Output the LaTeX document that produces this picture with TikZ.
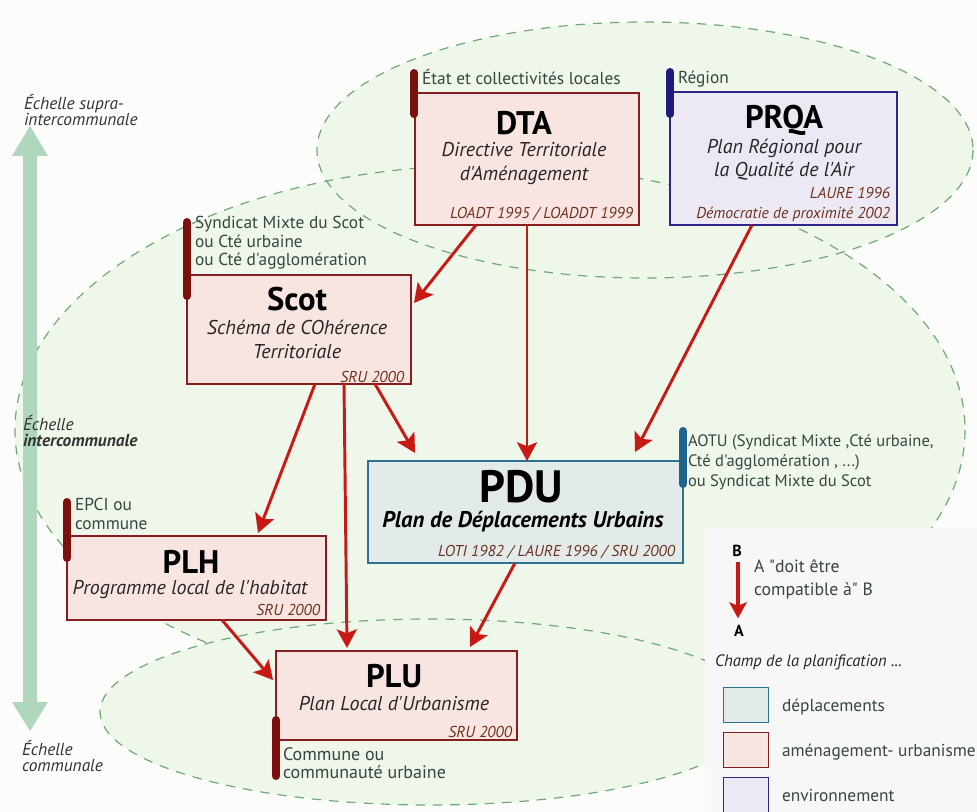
\documentclass[tikz,border=0pt]{standalone}
\usepackage{fontspec}
\setmainfont{PT Sans}[Ligatures=TeXOff]
\usetikzlibrary{arrows.meta,calc}
\definecolor{bgc}{RGB}{252,253,251}
\definecolor{ell}{RGB}{239,246,234}
\definecolor{elldash}{RGB}{110,170,120}
\definecolor{scalearrow}{RGB}{175,215,190}
\definecolor{amenF}{RGB}{248,228,225}
\definecolor{amenD}{RGB}{135,30,30}
\definecolor{envF}{RGB}{236,233,244}
\definecolor{envD}{RGB}{45,40,135}
\definecolor{depF}{RGB}{226,235,234}
\definecolor{depD}{RGB}{45,115,145}
\definecolor{tabR}{RGB}{125,15,15}
\definecolor{tabB}{RGB}{30,25,125}
\definecolor{tabT}{RGB}{30,100,140}
\definecolor{lbl}{RGB}{55,70,65}
\definecolor{legal}{RGB}{110,50,30}
\definecolor{arrred}{RGB}{200,25,20}
\definecolor{legbg}{RGB}{247,247,247}
\begin{document}
\begin{tikzpicture}[x=0.75pt,y=-0.75pt,
  every node/.style={inner sep=0pt, outer sep=0pt},
  ellfill/.style={fill=ell},
  elldraw/.style={draw=elldash, line width=0.9pt, dash pattern=on 7pt off 6pt},
  boxbase/.style={rectangle, line width=1.4pt},
  amen/.style={boxbase, draw=amenD, fill=amenF},
  envi/.style={boxbase, draw=envD, fill=envF},
  depl/.style={boxbase, draw=depD, fill=depF},
  tabbar/.style={line width=6pt, line cap=round},
  lab/.style={text=lbl, align=left, font=\fontsize{13}{14}\selectfont},
  ttl/.style={font=\fontsize{24.5}{28}\selectfont\bfseries},
  sub/.style={align=center, text=black!85, font=\fontsize{15}{17.5}\selectfont\itshape},
  law/.style={align=right, text=legal, font=\fontsize{11.8}{14.3}\selectfont\itshape},
  scl/.style={align=left, text=black!80, font=\fontsize{13}{12.6}\selectfont\itshape},
  arr/.style={draw=arrred, line width=2.2pt, -{Stealth[length=14pt,width=15pt,inset=3pt]}},
  leg/.style={text=lbl, align=left, font=\fontsize{13}{17}\selectfont}
]
\useasboundingbox (0,0) rectangle (977,812);
\fill[bgc] (0,0) rectangle (977,812);

% ellipses
\fill[ellfill] (645,150) ellipse [x radius=328, y radius=128];
\fill[ellfill] (490,430) ellipse [x radius=475, y radius=265];
\draw[elldraw] (645,150) ellipse [x radius=328, y radius=128];
\draw[elldraw] (490,430) ellipse [x radius=475, y radius=265];
\fill[ellfill] (430,712) ellipse [x radius=330, y radius=93];
\draw[elldraw] (430,712) ellipse [x radius=330, y radius=93];

% scale double arrow
\fill[scalearrow] (30,126) -- (48,156) -- (37,156) -- (37,702) -- (48,702) -- (30,731)
  -- (12,702) -- (23,702) -- (23,156) -- (12,156) -- cycle;
\node[scl, anchor=west] (s1) at (24,110) {Échelle supra-\\intercommunale};
\node[scl, anchor=west] (s2) at (23,431) {Échelle\\\textbf{intercommunale}};
\node[scl, anchor=west] (s3) at (22,756) {Échelle\\communale};

% boxes
\node[amen, minimum width=224*0.75pt, minimum height=132*0.75pt] (dta) at (527,159) {};
\node[envi, minimum width=227*0.75pt, minimum height=133*0.75pt] (prqa) at (783.5,158.5) {};
\node[amen, minimum width=224*0.75pt, minimum height=109*0.75pt] (scot) at (299,329.5) {};
\node[depl, minimum width=315*0.75pt, minimum height=102*0.75pt] (pdu) at (525.5,512) {};
\node[amen, minimum width=259*0.75pt, minimum height=84*0.75pt] (plh) at (196.5,578) {};
\node[amen, minimum width=241*0.75pt, minimum height=89*0.75pt] (plu) at (396.5,695.5) {};

% tabs
\draw[tabbar, tabR] ($(dta.north west)+(-1,-20)$) -- ($(dta.north west)+(-1,21)$);
\draw[tabbar, tabB] ($(prqa.north west)+(0,-20)$) -- ($(prqa.north west)+(0,22)$);
\draw[tabbar, tabR] ($(scot.north west)+(0,-53)$) -- ($(scot.north west)+(0,21)$);
\draw[tabbar, tabT] ($(pdu.north east)+(0,-30)$) -- ($(pdu.north east)+(0,23)$);
\draw[tabbar, tabR] ($(plh.north west)+(0,-34)$) -- ($(plh.north west)+(0,22)$);
\draw[tabbar, tabR] ($(plu.south west)+(0,-20)$) -- ($(plu.south west)+(0,36)$);

% tab labels
\node[lab, anchor=west] (dtaL) at (422,77) {État et collectivités locales};
\node[lab, anchor=west] (prqaL) at (678,79) {Région};
\node[lab, anchor=west, font=\fontsize{13}{13.8}\selectfont] (scotL) at (195,243) {Syndicat Mixte du Scot\\ou Cté urbaine\\ou Cté d'agglomération};
\node[lab, anchor=west, font=\fontsize{12.4}{15}\selectfont] (pduL) at (688,462) {AOTU (Syndicat Mixte ,Cté urbaine,\\Cté d'agglomération , ...)\\ou Syndicat Mixte du Scot};
\node[lab, anchor=west] (plhL) at (75,514) {EPCI ou\\commune};
\node[lab, anchor=west, font=\fontsize{13.5}{13.8}\selectfont] (pluL) at (283,763) {Commune ou\\communauté urbaine};

% DTA
\node[ttl] (dtaT) at (524,123.5) {DTA};
\node[sub] (dtaS) at (524,163.5) {Directive Territoriale\\d'Aménagement};
\node[law, anchor=east] (dtaW) at (633,214) {LOADT 1995 / LOADDT 1999};
% PRQA
\node[ttl] (prqaT) at (784,120) {PRQA};
\node[sub] (prqaS) at (784,159.5) {Plan Régional pour\\la Qualité de l'Air};
\node[law, anchor=east] (prqaW) at (890,204.5) {LAURE 1996\\Démocratie de proximité 2002};
% Scot
\node[ttl] (scotT) at (297,299) {Scot};
\node[sub, font=\fontsize{15}{18}\selectfont\itshape] (scotS) at (297,339) {Schéma de COhérence\\Territoriale};
\node[law, anchor=east] (scotW) at (404,377) {SRU 2000};
% PDU
\node[font=\fontsize{34}{36}\selectfont\bfseries] (pduT) at (521,487) {PDU};
\node[font=\fontsize{17}{19}\selectfont\bfseries\itshape] (pduS) at (523,522) {Plan de Déplacements Urbains};
\node[law, anchor=east] (pduW) at (675,552) {LOTI 1982 / LAURE 1996 / SRU 2000};
% PLH
\node[ttl] (plhT) at (191,562) {PLH};
\node[sub] (plhS) at (190,590) {Programme local de l'habitat};
\node[law, anchor=east] (plhW) at (320,610) {SRU 2000};
% PLU
\node[ttl] (pluT) at (394,676) {PLU};
\node[sub] (pluS) at (394,704) {Plan Local d'Urbanisme};
\node[law, anchor=east] (pluW) at (512,732) {SRU 2000};

% arrows
\draw[arr] ($(dta.south west)+(61,0)$) -- ($(scot.north east)+(3,28)$);
\draw[arr] (dta.south) -- (dta.south |- pdu.north);
\draw[arr] ($(prqa.south west)+(82,0)$) -- ($(pdu.north west)+(267,-9)$);
\draw[arr] ($(scot.south west)+(188,0)$) -- ($(pdu.north west)+(47,-8)$);
\draw[arr] ($(scot.south west)+(128,0)$) -- ($(plh.north east)+(-68,-3)$);
\draw[arr] ($(scot.south west)+(157,0)$) -- ($(plu.north west)+(71,-3)$);
\draw[arr] ($(plh.south west)+(155,0)$) -- ($(plu.north west)+(-3,29)$);
\draw[arr] ($(pdu.south west)+(147,0)$) -- ($(plu.north west)+(194,-4)$);

% legend
\fill[legbg] (705,528) rectangle (977,812);
\node[font=\fontsize{12}{13}\selectfont\bfseries] (lB) at (737,551) {B};
\node[font=\fontsize{12}{13}\selectfont\bfseries] (lA) at (739,631) {A};
\draw[arr, line width=2.6pt, -{Stealth[length=12pt,width=13pt,inset=2.5pt]}] ($(lB.south)+(1,5)$) -- ($(lA.north)+(-1,-7)$);
\node[leg, anchor=west, font=\fontsize{13.3}{17}\selectfont] (lTxt) at (754,579.5) {A "doit être\\compatible à" B};
\node[leg, anchor=west, text=black!85, font=\fontsize{12.4}{14}\selectfont\itshape] (lChamp) at (715,662) {Champ de la planification ...};
\node[depl, minimum width=45*0.75pt, minimum height=35*0.75pt] (sw1) at (746,705) {};
\node[amen, minimum width=45*0.75pt, minimum height=35*0.75pt] (sw2) at (746,750) {};
\node[envi, minimum width=45*0.75pt, minimum height=35*0.75pt] (sw3) at (746,795) {};
\node[leg, anchor=west] (l1) at (782,707) {déplacements};
\node[leg, anchor=west] (l2) at (782,752) {aménagement- urbanisme};
\node[leg, anchor=west] (l3) at (782,795) {environnement};
\end{tikzpicture}
\end{document}
